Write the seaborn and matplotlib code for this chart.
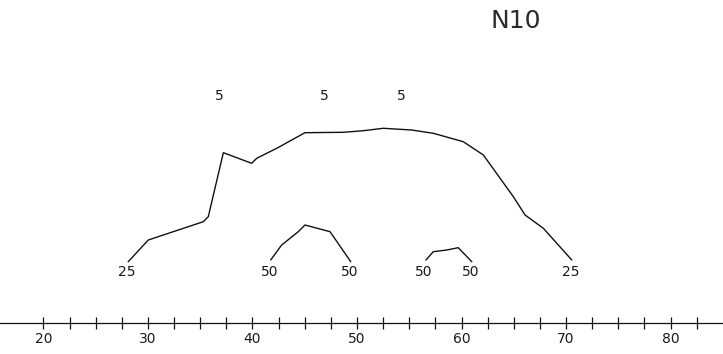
import numpy as np
import pandas as pd
import matplotlib
matplotlib.use("Agg")
import matplotlib.pyplot as plt
import seaborn as sns

# Outer isopter (25)
outer_x = [28.11, 30.03, 35.29, 35.77, 37.21, 39.92, 40.40, 42.32, 45.02, 48.69,
           50.60, 52.52, 55.23, 57.30, 60.17, 62.09, 64.96, 66.08, 67.83, 70.55]
outer_y = [6.13, 8.30, 10.13, 10.63, 17.03, 15.97, 16.47, 17.47, 19.03, 19.07,
           19.23, 19.47, 19.30, 18.97, 18.13, 16.80, 12.63, 10.80, 9.47, 6.30]

# Inner isopters (50)
inner1_x = [41.74, 42.79, 44.38, 45.02, 47.42, 49.40]
inner1_y = [6.30, 7.80, 9.13, 9.80, 9.13, 6.13]
inner2_x = [56.60, 57.30, 58.58, 59.69, 60.98]
inner2_y = [6.30, 7.13, 7.30, 7.53, 6.13]

# Contour labels
label_text = ["25", "50", "50", "50", "50", "25", "5", "5", "5"]
label_x = [27.96, 41.61, 49.26, 56.35, 60.88, 70.48, 36.83, 46.84, 54.28]
label_y = [5.13, 5.13, 5.13, 5.13, 5.13, 5.13, 22.73, 22.73, 22.73]

title_text = "N10"
title_x, title_y = 65.2, 30.2

major_ticks = [20, 30, 40, 50, 60, 70, 80]
minor_ticks = [22.5, 25, 27.5, 32.5, 35, 37.5, 42.5, 45, 47.5, 52.5, 55, 57.5,
               62.5, 65, 67.5, 72.5, 75, 77.5, 82.5]

df = pd.concat([
    pd.DataFrame({"x": outer_x, "y": outer_y, "contour": "outer"}),
    pd.DataFrame({"x": inner1_x, "y": inner1_y, "contour": "inner1"}),
    pd.DataFrame({"x": inner2_x, "y": inner2_y, "contour": "inner2"}),
], ignore_index=True)

sns.set_style("white")
plt.rcParams["font.family"] = ["DejaVu Sans"]

fig = plt.figure(figsize=(7.23, 3.54), dpi=100)
ax = fig.add_axes([0, 0, 1, 1])

sns.lineplot(data=df, x="x", y="y", units="contour", estimator=None,
             sort=False, color="#111111", linewidth=1.0, ax=ax, legend=False)

for t, x, y in zip(label_text, label_x, label_y):
    ax.text(x, y, t, ha="center", va="center", fontsize=10, color="#1a1a1a")

ax.text(title_x, title_y, title_text, ha="center", va="center",
        fontsize=18, color="#2a2a2a")

ax.set_xlim(15.84, 85.02)
ax.set_ylim(-3.1, 32.3)

for side in ["top", "right", "left"]:
    ax.spines[side].set_visible(False)
ax.spines["bottom"].set_position(("data", 0))
ax.spines["bottom"].set_color("#111111")
ax.spines["bottom"].set_linewidth(0.9)

ax.set_xticks(major_ticks)
ax.set_xticklabels([str(t) for t in major_ticks])
ax.set_xticks(minor_ticks, minor=True)
ax.tick_params(axis="x", which="both", direction="inout", length=8.5,
               width=0.9, color="#111111", bottom=True)
ax.tick_params(axis="x", which="major", labelsize=10, pad=2,
               labelcolor="#1a1a1a")
ax.set_yticks([])
ax.set_xlabel("")
ax.set_ylabel("")

fig.savefig("out.png", dpi=100, facecolor="white")
